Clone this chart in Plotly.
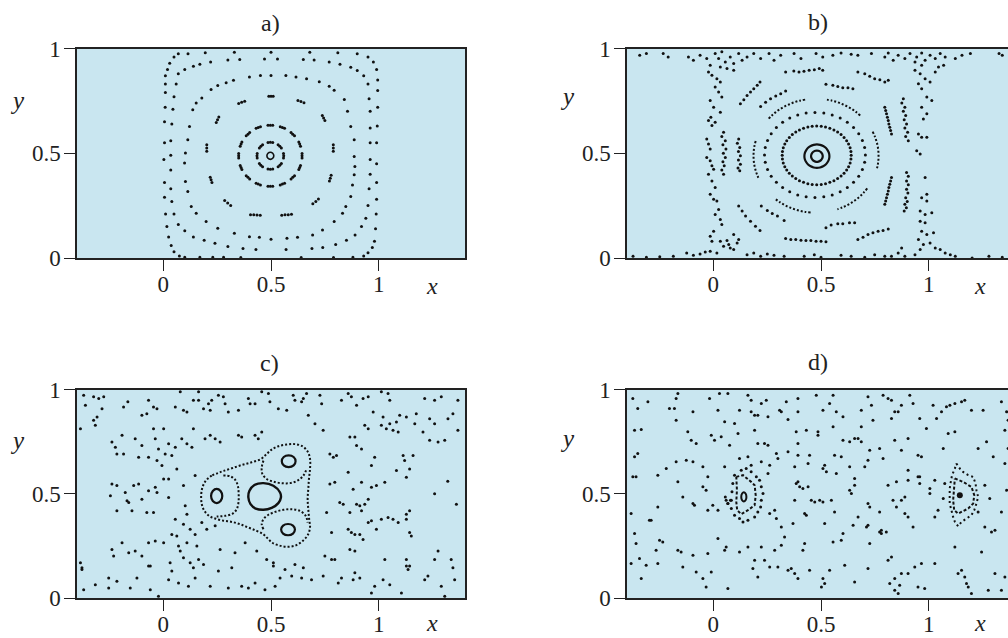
import plotly.graph_objects as go

# ---------------- data ----------------
TICKS = [0, 0.5, 1]
TICK_TEXT = ["0", "0.5", "1"]
PANEL_TITLES = ["a)", "b)", "c)", "d)"]

# ---- panel a ----
A_CENTER = [(0.513,0.488),(0.508,0.500),(0.497,0.505),(0.486,0.500),(0.481,0.488),(0.486,0.476),(0.497,0.471),(0.508,0.476)]
A_RING2 = [(0.559,0.488),(0.558,0.499),(0.558,0.477),(0.541,0.533),(0.548,0.525),(0.533,0.540),
           (0.497,0.552),(0.508,0.551),(0.486,0.551),(0.453,0.533),(0.446,0.525),(0.461,0.540),
           (0.435,0.488),(0.436,0.499),(0.436,0.477),(0.453,0.443),(0.446,0.451),(0.461,0.436),
           (0.497,0.424),(0.508,0.425),(0.486,0.425),(0.541,0.443),(0.548,0.451),(0.533,0.436)]
A_RING3 = [(0.644,0.488),(0.644,0.477),(0.644,0.499),(0.633,0.544),(0.637,0.534),(0.629,0.554),
           (0.601,0.591),(0.609,0.583),(0.593,0.599),(0.553,0.623),(0.563,0.619),(0.543,0.627),
           (0.497,0.634),(0.508,0.634),(0.486,0.634),(0.441,0.623),(0.451,0.627),(0.431,0.619),
           (0.393,0.591),(0.401,0.599),(0.385,0.583),(0.361,0.544),(0.365,0.554),(0.357,0.534),
           (0.350,0.488),(0.350,0.499),(0.350,0.477),(0.361,0.432),(0.357,0.442),(0.365,0.422),
           (0.393,0.385),(0.385,0.393),(0.401,0.377),(0.441,0.353),(0.431,0.357),(0.451,0.349),
           (0.497,0.342),(0.486,0.342),(0.508,0.342),(0.553,0.353),(0.543,0.349),(0.563,0.357),
           (0.601,0.385),(0.593,0.377),(0.609,0.393),(0.633,0.432),(0.629,0.422),(0.637,0.442)]
A_RING4 = [(0.49,0.772),(0.50,0.772),(0.51,0.772),
           (0.35,0.738),(0.364,0.743),(0.378,0.748),
           (0.625,0.752),(0.639,0.747),(0.653,0.741),
           (0.246,0.647),(0.252,0.660),(0.258,0.673),
           (0.738,0.680),(0.744,0.668),(0.750,0.656),
           (0.202,0.51),(0.202,0.525),(0.202,0.54),
           (0.789,0.51),(0.789,0.525),(0.789,0.54),
           (0.218,0.386),(0.222,0.373),(0.226,0.360),
           (0.779,0.395),(0.775,0.381),(0.771,0.367),
           (0.285,0.274),(0.299,0.262),(0.313,0.251),
           (0.694,0.259),(0.708,0.27),(0.72,0.282),
           (0.405,0.206),(0.42,0.206),(0.435,0.205),(0.45,0.204),
           (0.55,0.204),(0.565,0.206),(0.58,0.207),(0.595,0.209)]
A_RING5 = [(0.222,0.804),(0.253,0.823),(0.292,0.836),(0.326,0.848),(0.400,0.864),(0.451,0.871),(0.500,0.871),
           (0.569,0.871),(0.616,0.864),(0.665,0.856),(0.724,0.841),(0.770,0.820),(0.793,0.801),(0.840,0.756),
           (0.855,0.700),(0.870,0.628),(0.886,0.565),(0.886,0.485),(0.889,0.437),(0.886,0.397),(0.878,0.349),
           (0.870,0.293),(0.847,0.246),(0.832,0.214),(0.793,0.174),(0.739,0.134),(0.693,0.110),(0.623,0.099),
           (0.574,0.094),(0.500,0.089),(0.446,0.099),(0.400,0.102),(0.330,0.118),(0.253,0.142),(0.199,0.174),
           (0.153,0.214),(0.130,0.246),(0.114,0.317),(0.103,0.365),(0.099,0.453),(0.103,0.501),(0.114,0.565),
           (0.122,0.628),(0.137,0.708),(0.153,0.740),(0.179,0.764)]
A_RING6 = [(0.07,0.88),(0.10,0.90),(0.14,0.915),(0.17,0.925),(0.22,0.935),(0.30,0.945),(0.355,0.948),(0.47,0.95),
           (0.53,0.95),(0.65,0.948),(0.70,0.945),(0.77,0.935),(0.82,0.925),(0.87,0.91),(0.90,0.895),(0.93,0.87),
           (0.95,0.83),(0.955,0.76),(0.96,0.70),(0.96,0.62),(0.96,0.55),(0.96,0.47),(0.96,0.40),(0.955,0.33),
           (0.95,0.25),(0.94,0.19),(0.92,0.15),(0.89,0.11),(0.85,0.085),(0.80,0.065),(0.74,0.05),(0.69,0.045),
           (0.57,0.04),(0.43,0.04),(0.37,0.045),(0.30,0.055),(0.24,0.07),(0.19,0.085),(0.14,0.10),(0.10,0.13),
           (0.07,0.16),(0.05,0.21),(0.04,0.27),(0.035,0.33),(0.035,0.42),(0.035,0.49),(0.035,0.56),(0.04,0.64),
           (0.045,0.71),(0.05,0.77),(0.06,0.83)]
A_RING7 = [(0.02,0.90),(0.03,0.93),(0.05,0.96),(0.07,0.975),(0.01,0.87),(0.01,0.83),(0.01,0.79),(0.009,0.72),
           (0.006,0.65),(0.006,0.55),(0.003,0.47),(0.006,0.36),(0.006,0.29),(0.011,0.21),(0.017,0.15),(0.025,0.10),
           (0.037,0.06),(0.05,0.03),(0.075,0.01),(0.10,0.003),(0.115,0.975),(0.195,0.98),(0.33,0.982),(0.50,0.982),
           (0.68,0.982),(0.81,0.98),(0.90,0.975),(0.95,0.96),(0.975,0.935),(0.99,0.90),(0.995,0.85),(0.995,0.80),
           (0.995,0.72),(0.993,0.63),(0.99,0.55),(0.99,0.45),(0.99,0.36),(0.99,0.28),(0.988,0.21),(0.985,0.14),
           (0.98,0.08),(0.97,0.05),(0.95,0.025),(0.93,0.01),(0.17,0.003),(0.23,0.003),(0.28,0.003),(0.36,0.002),
           (0.64,0.002),(0.79,0.002),(0.88,0.003)]

# ---- panel b ----
B_CORE_IN = [(0.508,0.486),(0.507,0.493),(0.504,0.4995),(0.500,0.505),(0.4945,0.509),(0.488,0.512),(0.481,0.513),
             (0.474,0.512),(0.4675,0.509),(0.462,0.505),(0.458,0.4995),(0.455,0.493),(0.454,0.486),(0.455,0.479),
             (0.458,0.4725),(0.462,0.467),(0.4675,0.463),(0.474,0.460),(0.481,0.459),(0.488,0.460),(0.4945,0.463),
             (0.500,0.467),(0.504,0.4725),(0.507,0.479)]
B_CORE_OUT = [(0.539,0.486),(0.537,0.5005),(0.531,0.514),(0.522,0.526),(0.510,0.5345),(0.496,0.540),(0.481,0.542),
              (0.466,0.540),(0.452,0.5345),(0.440,0.526),(0.431,0.514),(0.425,0.5005),(0.423,0.486),(0.425,0.4715),
              (0.431,0.458),(0.440,0.446),(0.452,0.4375),(0.466,0.432),(0.481,0.430),(0.496,0.432),(0.510,0.4375),
              (0.522,0.446),(0.531,0.458),(0.537,0.4715)]
B_RING3 = [(0.640,0.490),(0.635,0.526),(0.619,0.560),(0.593,0.589),(0.560,0.611),(0.521,0.625),(0.480,0.630),
           (0.439,0.625),(0.400,0.611),(0.367,0.589),(0.341,0.560),(0.325,0.526),(0.320,0.490),(0.325,0.454),
           (0.341,0.420),(0.367,0.391),(0.400,0.369),(0.439,0.355),(0.480,0.350),(0.521,0.355),(0.560,0.369),
           (0.593,0.391),(0.619,0.420),(0.635,0.454),
           (0.639,0.508),(0.628,0.544),(0.607,0.575),(0.577,0.601),(0.541,0.619),(0.501,0.629),(0.459,0.629),
           (0.419,0.619),(0.383,0.601),(0.353,0.575),(0.332,0.544),(0.321,0.508),(0.321,0.472),(0.332,0.436),
           (0.353,0.405),(0.383,0.379),(0.419,0.361),(0.459,0.351),(0.501,0.351),(0.541,0.361),(0.577,0.379),
           (0.607,0.405),(0.628,0.436),(0.639,0.472)]
B_RING4 = [(0.706,0.492),(0.7025,0.527),(0.692,0.561),(0.675,0.5935),(0.651,0.6225),(0.622,0.6475),(0.589,0.668),
           (0.552,0.683),(0.513,0.692),(0.472,0.695),(0.431,0.692),(0.392,0.683),(0.355,0.668),(0.322,0.6475),
           (0.293,0.6225),(0.269,0.5935),(0.252,0.561),(0.2415,0.527),(0.238,0.492),(0.2415,0.457),(0.252,0.423),
           (0.269,0.3905),(0.293,0.3615),(0.322,0.3365),(0.355,0.316),(0.392,0.301),(0.431,0.292),(0.472,0.289),
           (0.513,0.292),(0.552,0.301),(0.589,0.316),(0.622,0.3365),(0.651,0.3615),(0.675,0.3905),(0.692,0.423),
           (0.7025,0.457)]
B_ARC_TL = [(0.4265,0.756),(0.402,0.751),(0.378,0.744),(0.354,0.734),(0.332,0.7236),(0.3105,0.711),(0.2905,0.6964),(0.272,0.680),(0.255,0.663)]
B_ARC_TR = [(0.682,0.680),(0.6635,0.6964),(0.6435,0.711),(0.622,0.7236),(0.5997,0.734),(0.576,0.744),(0.552,0.751),(0.5275,0.756)]
B_ARC_R = [(0.7397,0.603),(0.7496,0.581),(0.757,0.5584),(0.7627,0.5353),(0.766,0.5117),(0.767,0.488),(0.766,0.4643),(0.7627,0.4407),(0.757,0.4176)]
B_ARC_BR = [(0.7145,0.332),(0.699,0.3131),(0.682,0.2957),(0.6635,0.2796),(0.6435,0.2652),(0.622,0.2524),(0.5997,0.2416),(0.576,0.2323)]
B_ARC_BL = [(0.4518,0.2171),(0.4265,0.2201),(0.402,0.2252),(0.378,0.2323),(0.354,0.2416),(0.332,0.2524),(0.3105,0.2652),(0.2905,0.2796)]
B_ARC_L = [(0.197,0.5584),(0.1913,0.5353),(0.188,0.5117),(0.187,0.488),(0.188,0.4643),(0.1913,0.4407),(0.197,0.4176),(0.2044,0.395),(0.2143,0.373)]
B_CHAIN = [(0.336,0.888),(0.374,0.893),(0.398,0.888),(0.421,0.891),(0.445,0.896),(0.469,0.899),(0.492,0.904),(0.508,0.896),
           (0.523,0.829),(0.555,0.824),(0.578,0.819),(0.601,0.813),(0.625,0.813),(0.648,0.808),
           (0.671,0.888),(0.703,0.88),(0.726,0.867),(0.749,0.856),(0.773,0.851),(0.796,0.84),(0.812,0.848),
           (0.126,0.736),(0.142,0.755),(0.157,0.776),(0.173,0.792),(0.188,0.808),(0.204,0.824),(0.217,0.84),
           (0.22,0.723),(0.243,0.744),(0.266,0.76),(0.29,0.773),(0.313,0.784),(0.336,0.797),
           (0.048,0.6),(0.056,0.56),(0.059,0.52),(0.056,0.48),(0.051,0.44),(0.048,0.4),
           (0.04,0.58),(0.045,0.54),(0.047,0.5),(0.045,0.46),(0.04,0.42),
           (0.118,0.568),(0.123,0.528),(0.126,0.488),(0.126,0.448),(0.123,0.416),
           (0.112,0.548),(0.117,0.508),(0.117,0.468),(0.115,0.43),
           (0.796,0.72),(0.804,0.688),(0.812,0.656),(0.819,0.624),(0.827,0.592),
           (0.8,0.704),(0.808,0.672),(0.815,0.64),(0.823,0.608),
           (0.882,0.76),(0.889,0.72),(0.893,0.68),(0.897,0.64),(0.902,0.6),(0.905,0.56),
           (0.875,0.74),(0.882,0.70),(0.886,0.66),(0.889,0.62),(0.893,0.58),
           (0.827,0.384),(0.819,0.352),(0.812,0.32),(0.804,0.288),(0.796,0.256),
           (0.823,0.368),(0.815,0.336),(0.808,0.304),(0.8,0.272),
           (0.897,0.408),(0.897,0.368),(0.897,0.328),(0.893,0.288),(0.889,0.256),(0.886,0.224),
           (0.905,0.39),(0.905,0.35),(0.903,0.31),(0.9,0.27),(0.896,0.24),
           (0.118,0.248),(0.134,0.224),(0.15,0.2),(0.173,0.176),(0.196,0.152),(0.217,0.131),
           (0.223,0.248),(0.251,0.227),(0.274,0.213),(0.298,0.2),(0.329,0.179),
           (0.523,0.144),(0.547,0.157),(0.578,0.163),(0.601,0.163),(0.632,0.168),(0.656,0.168),
           (0.671,0.088),(0.695,0.099),(0.718,0.112),(0.741,0.12),(0.765,0.128),(0.788,0.131),(0.812,0.139),
           (0.336,0.093),(0.36,0.088),(0.383,0.088),(0.407,0.085),(0.43,0.083),(0.453,0.083),(0.477,0.08),(0.5,0.08),(0.523,0.077)]
B_CHAOS = [(-0.022,0.888),(-0.006,0.872),(0.017,0.856),(0.033,0.84),(0.009,0.816),(0.025,0.792),(0.04,0.768),(-0.014,0.752),
           (0.002,0.72),(0.033,0.696),(-0.011,0.672),(-0.022,0.656),(0.009,0.648),(-0.006,0.632),(-0.03,0.568),(-0.022,0.544),
           (-0.014,0.52),(-0.03,0.48),(-0.014,0.464),(-0.006,0.44),(0.002,0.424),(-0.022,0.4),(-0.006,0.368),(0.009,0.336),
           (-0.014,0.304),(0.002,0.28),(0.017,0.272),(0.025,0.232),(0.009,0.208),(0.033,0.184),(0.04,0.16),(0.002,0.128),
           (-0.014,0.104),(-0.006,0.08),(0.033,0.08),(0.048,0.056),(0.079,0.048),(0.095,0.04),(-0.014,0.032),(0.017,0.024),
           (0.064,0.083),(0.111,0.072),(0.118,0.088),(0.095,0.112),(0.072,0.064),
           (-0.115,0.96),(-0.092,0.944),(-0.061,0.968),(-0.03,0.952),(0.009,0.976),(0.025,0.952),(0.04,0.984),(0.056,0.936),
           (0.079,0.96),(0.095,0.928),(0.118,0.976),(0.134,0.944),(0.157,0.96),(0.033,0.912),(0.064,0.904),(0.095,0.896),
           (-0.014,0.92),(0.188,0.976),(0.22,0.952),(0.259,0.976),(0.282,0.944),(0.313,0.968),
           (-0.341,0.968),(-0.31,0.976),(-0.232,0.976),(-0.209,0.96),(0.375,0.976),(0.407,0.952),(0.477,0.976),(0.508,0.96),
           (0.555,0.968),(0.593,0.979),(0.64,0.973),(0.671,0.968),(0.734,0.976),(0.796,0.96),(0.812,0.979),(0.835,0.944),
           (0.858,0.968),(0.889,0.952),(0.913,0.976),(0.944,0.96),(0.967,0.979),(0.983,0.944),(1.006,0.968),(1.03,0.952),
           (1.053,0.976),(1.076,0.96),(1.123,0.952),(1.154,0.968),(1.193,0.976),(1.326,0.976),(1.341,0.968),
           (0.936,0.896),(0.96,0.88),(0.983,0.856),(1.006,0.84),(0.952,0.832),(0.967,0.808),(0.991,0.768),(1.014,0.752),
           (0.967,0.72),(0.991,0.688),(0.975,0.664),(0.952,0.592),(0.967,0.576),(0.991,0.576),(0.944,0.512),(0.96,0.496),
           (0.983,0.384),(0.991,0.304),(0.967,0.288),(0.991,0.272),(0.96,0.224),(0.983,0.208),(1.014,0.216),(0.96,0.176),
           (0.983,0.168),(0.967,0.128),(0.991,0.112),(1.022,0.12),(0.952,0.088),(0.975,0.064),(1.006,0.072),(1.03,0.048),
           (1.053,0.04),(1.076,0.024),(1.1,0.016),(0.874,0.048),(0.858,0.024),(0.889,0.008),(0.827,0.008),(0.96,0.04),
           (0.936,0.016),(1.045,0.912),(1.069,0.92),(1.03,0.888),(0.936,0.936),(0.967,0.92),
           (-0.372,0.008),(-0.31,0.003),(-0.248,0.006),(-0.185,0.008),(-0.123,0.024),(-0.092,0.013),(-0.061,0.019),
           (-0.037,0.029),(0.157,0.016),(0.188,0.024),(0.22,0.008),(0.251,0.019),(0.282,0.013),(0.329,0.008),(0.422,0.008),
           (0.469,0.016),(0.5,0.003),(0.593,0.013),(0.64,0.008),(0.703,0.003),(0.749,0.016),(0.796,0.008),(1.123,0.008),
           (1.201,0.0),(1.279,0.008),(1.341,0.003)]

# ---- panel c ----
C_CORE = [(0.465,0.551),(0.511,0.538),(0.542,0.506),(0.546,0.482),(0.534,0.455),(0.503,0.432),(0.465,0.423),
          (0.429,0.429),(0.405,0.450),(0.395,0.482),(0.400,0.514),(0.423,0.542)]
C_ISL_TOP = [(0.614,0.656),(0.605,0.676),(0.582,0.684),(0.559,0.676),(0.55,0.656),(0.559,0.636),(0.582,0.628),(0.605,0.636)]
C_ISL_LEFT = [(0.274,0.489),(0.266,0.513),(0.248,0.523),(0.230,0.513),(0.222,0.489),(0.230,0.465),(0.248,0.455),(0.266,0.465)]
C_ISL_BOT = [(0.611,0.328),(0.602,0.347),(0.579,0.355),(0.556,0.347),(0.547,0.328),(0.556,0.309),(0.579,0.301),(0.602,0.309)]
C_SEP_OUTER = [(0.256,0.600),(0.225,0.587),(0.198,0.563),(0.182,0.531),(0.176,0.490),(0.179,0.450),(0.191,0.418),
               (0.213,0.394),(0.241,0.381),(0.279,0.371),(0.318,0.365),(0.356,0.354),(0.395,0.338),(0.434,0.322),
               (0.465,0.305),(0.485,0.285),(0.506,0.265),(0.537,0.252),(0.577,0.246),(0.614,0.252),(0.645,0.272),
               (0.670,0.301),(0.681,0.338),(0.677,0.378),(0.673,0.426),(0.670,0.474),(0.673,0.523),(0.676,0.571),
               (0.681,0.619),(0.681,0.667),(0.670,0.703),(0.645,0.728),(0.611,0.738),(0.573,0.736),(0.534,0.728),
               (0.503,0.712),(0.480,0.691),(0.454,0.667),(0.410,0.651),(0.364,0.638),(0.318,0.622),(0.279,0.609)]
C_SEP_LEFT = [(0.279,0.587),(0.310,0.584),(0.333,0.568),(0.346,0.539),(0.350,0.498),(0.349,0.458),(0.341,0.426),(0.321,0.404),(0.287,0.394),(0.248,0.391)]
C_SEP_TOP = [(0.465,0.659),(0.457,0.627),(0.460,0.595),(0.480,0.571),(0.511,0.558),(0.549,0.551),(0.588,0.551),(0.623,0.563),(0.650,0.587),(0.665,0.619)]
C_SEP_BOT = [(0.465,0.330),(0.457,0.354),(0.465,0.378),(0.485,0.397),(0.519,0.413),(0.557,0.423),(0.596,0.426),(0.634,0.418),(0.661,0.394),(0.670,0.362)]
C_CHAOS = [(-0.369,0.973),(-0.323,0.965),(-0.299,0.957),(-0.276,0.965),(-0.361,0.924),(-0.284,0.908),(-0.307,0.868),(-0.323,0.852),
           (-0.184,0.916),(-0.164,0.941),(-0.099,0.876),(-0.076,0.884),(-0.068,0.949),(-0.045,0.916),(-0.029,0.908),(0.056,0.916),
           (0.079,0.989),(0.094,0.9),(0.11,0.892),(0.14,0.949),(0.164,0.949),(0.164,0.989),(0.187,0.908),(0.21,0.932),(0.218,0.9),
           (0.225,0.949),(0.256,0.973),(0.279,0.965),(0.287,0.932),(0.302,0.892),(0.349,0.9),(0.395,0.957),(0.403,0.932),
           (0.426,0.932),(0.457,0.989),(0.488,0.981),(0.495,0.941),(0.534,0.908),(0.573,0.9),(0.603,0.973),(0.611,0.949),
           (0.65,0.957),(0.642,0.941),(0.665,0.981),(0.673,0.876),(0.727,0.973),(0.735,0.932),(0.827,0.949),(0.858,0.981),
           (0.873,0.965),(0.897,0.924),(0.927,0.957),(0.951,0.965),(0.974,0.892),(1.012,0.989),(1.02,0.868),(1.043,0.981),
           (1.051,0.949),(1.097,0.876),(1.128,0.868),(1.174,0.884),(1.213,0.957),(1.236,0.86),(1.259,0.949),(1.29,0.965),
           (1.321,0.86),(1.344,0.884),(1.367,0.949),
           (-0.384,0.812),(-0.315,0.828),(-0.238,0.748),(-0.222,0.723),(-0.215,0.691),(-0.191,0.78),(-0.184,0.691),(-0.13,0.764),
           (-0.114,0.675),(-0.099,0.732),(-0.068,0.675),(-0.045,0.812),(-0.037,0.764),(-0.022,0.715),(-0.029,0.659),(-0.006,0.635),
           (0.002,0.812),(0.009,0.691),(0.025,0.74),(0.04,0.683),(0.056,0.723),(0.086,0.764),(0.11,0.74),(0.133,0.723),(0.14,0.812),
           (0.194,0.764),(0.218,0.78),(0.241,0.764),(0.264,0.748),(0.349,0.78),(0.364,0.772),(0.426,0.78),(0.441,0.764),(0.457,0.796),
           (0.704,0.836),(0.742,0.804),(0.773,0.691),(0.789,0.675),(0.804,0.683),(0.866,0.772),(0.889,0.772),(0.897,0.732),
           (0.92,0.715),(0.935,0.828),(0.951,0.812),(0.966,0.635),(0.981,0.675),(1.012,0.828),(1.035,0.812),(1.051,0.836),
           (1.066,0.804),(1.082,0.844),(1.09,0.796),(1.113,0.683),(1.12,0.659),(1.159,0.683),(1.167,0.836),(1.205,0.796),
           (1.236,0.756),(1.259,0.836),(1.275,0.748),(1.306,0.756),(1.367,0.804),
           (-0.238,0.547),(-0.215,0.539),(-0.215,0.418),(-0.245,0.49),(-0.176,0.506),(-0.168,0.466),(-0.16,0.458),(-0.137,0.539),
           (-0.114,0.547),(-0.145,0.418),(-0.099,0.474),(-0.068,0.514),(-0.076,0.41),(-0.037,0.531),(-0.029,0.506),(-0.045,0.41),
           (0.002,0.571),(0.025,0.571),(0.063,0.619),(0.094,0.539),(0.102,0.442),(0.11,0.402),(0.025,0.482),(0.056,0.378),(0.148,0.587),
           (0.773,0.547),(0.796,0.555),(0.819,0.458),(0.835,0.45),(0.858,0.603),(0.866,0.41),(0.881,0.522),(0.897,0.45),(0.912,0.442),
           (0.92,0.418),(0.92,0.555),(0.935,0.45),(0.951,0.474),(0.966,0.531),(0.989,0.539),(1.028,0.555),(1.082,0.611),(1.128,0.579),
           (1.143,0.619),(1.143,0.418),(1.128,0.402),(0.758,0.41),(1.259,0.5),(1.32,0.56),(1.36,0.45),
           (-0.384,0.169),(-0.377,0.145),(-0.238,0.233),(-0.23,0.201),(-0.191,0.265),(-0.16,0.217),(-0.13,0.225),(-0.099,0.201),
           (-0.068,0.265),(-0.06,0.153),(-0.037,0.273),(0.002,0.265),(0.032,0.169),(0.04,0.305),(0.063,0.297),(0.071,0.249),
           (0.079,0.225),(0.094,0.354),(0.11,0.265),(0.125,0.33),(0.148,0.305),(0.156,0.249),(0.179,0.362),(0.094,0.193),
           (0.125,0.169),(0.164,0.185),(0.202,0.33),(0.241,0.346),(0.264,0.233),(0.333,0.217),(0.38,0.265),(0.434,0.225),
           (0.48,0.185),(0.511,0.169),
           (0.75,0.201),(0.781,0.185),(0.796,0.185),(0.781,0.314),(0.858,0.33),(0.873,0.314),(0.889,0.305),(0.912,0.305),
           (0.927,0.281),(0.951,0.362),(0.966,0.37),(0.989,0.33),(1.012,0.378),(1.043,0.386),(1.066,0.378),(1.09,0.362),
           (1.128,0.378),(1.143,0.314),(1.151,0.297),(0.866,0.233),(0.889,0.225),(1.028,0.185),(1.128,0.185),(1.259,0.185),
           (1.275,0.225),(1.336,0.185),(1.143,0.153),
           (-0.377,0.137),(-0.369,0.04),(-0.315,0.064),(-0.253,0.096),(-0.253,0.048),(-0.215,0.08),(-0.153,0.048),(-0.122,0.096),
           (-0.068,0.153),(-0.06,0.04),(-0.022,0.008),(0.025,0.088),(0.04,0.129),(0.071,0.072),(0.117,0.056),(0.14,0.145),
           (0.148,0.096),(0.187,0.161),(0.218,0.056),(0.256,0.129),(0.302,0.048),(0.318,0.145),(0.364,0.056),(0.395,0.048),
           (0.426,0.072),(0.472,0.04),(0.511,0.153),(0.519,0.056),(0.542,0.096),(0.565,0.137),(0.596,0.105),(0.611,0.161),
           (0.642,0.096),(0.65,0.145),(0.688,0.088),(0.742,0.105),(0.812,0.072),(0.827,0.096),(0.881,0.088),(0.889,0.121),
           (0.912,0.096),(0.966,0.024),(0.981,0.056),(1.02,0.088),(1.051,0.064),(1.105,0.024),(1.128,0.153),(1.136,0.137),
           (1.213,0.088),(1.228,0.105),(1.29,0.056),(1.344,0.145),(1.352,0.088),(1.306,0.008)]

# ---- panel d ----
D_ISL1_HEX = [(0.107,0.581),(0.138,0.589),(0.176,0.557),(0.192,0.541),(0.197,0.493),(0.192,0.445),(0.161,0.421),
              (0.130,0.402),(0.111,0.421),(0.107,0.461),(0.110,0.517)]
D_ISL1_CORE = [(0.154,0.485),(0.150,0.501),(0.142,0.507),(0.134,0.501),(0.130,0.485),(0.134,0.469),(0.142,0.463),(0.150,0.469)]
D_ISL1_HALO = [(0.13,0.613),(0.153,0.621),(0.176,0.605),(0.2,0.581),(0.215,0.565),(0.223,0.533),(0.231,0.501),(0.223,0.469),
               (0.22,0.437),(0.207,0.413),(0.192,0.389),(0.161,0.373),(0.138,0.365),(0.122,0.381),(0.099,0.397),(0.084,0.429),
               (0.08,0.469),(0.087,0.509),(0.091,0.549),(0.099,0.589),(0.06,0.469),(0.068,0.453),(0.056,0.485)]
D_ISL2_HEX = [(1.121,0.573),(1.159,0.557),(1.198,0.533),(1.211,0.493),(1.206,0.453),(1.183,0.429),(1.136,0.405),
              (1.118,0.421),(1.113,0.469),(1.118,0.533)]
D_ISL2_OUTER = [(1.128,0.645),(1.144,0.621),(1.159,0.605),(1.183,0.589),(1.206,0.581),(1.217,0.549),(1.221,0.517),
                (1.229,0.485),(1.221,0.453),(1.211,0.421),(1.198,0.397),(1.175,0.381),(1.152,0.365),(1.136,0.344),
                (1.121,0.365),(1.113,0.389),(1.105,0.421),(1.097,0.453),(1.097,0.485),(1.097,0.525),(1.102,0.557),
                (1.108,0.589),(1.121,0.621)]
D_ISL2_CORE = [(1.144,0.493)]
D_CHAOS = [(-0.373,0.957),(-0.35,0.909),(-0.303,0.941),(-0.334,0.808),(-0.365,0.805),(-0.203,0.909),(-0.18,0.909),(-0.172,0.957),
           (-0.164,0.981),(-0.172,0.853),(-0.094,0.893),(-0.017,0.957),(0.022,0.901),(0.029,0.981),(0.053,0.845),(0.068,0.981),
           (0.099,0.837),(0.122,0.901),(0.161,0.973),(0.176,0.949),(0.176,0.893),(0.192,0.877),(0.207,0.877),(0.223,0.933),
           (0.246,0.949),(0.254,0.869),(0.308,0.901),(0.316,0.893),(0.339,0.941),(0.347,0.856),(0.393,0.957),(0.393,0.893),
           (0.432,0.805),(0.478,0.973),(0.509,0.901),(0.54,0.933),(0.556,0.973),(0.571,0.893),(0.602,0.869),(0.687,0.901),
           (0.718,0.965),(0.734,0.925),(0.741,0.853),(0.788,0.973),(0.811,0.957),(0.827,0.949),(0.842,0.893),(0.858,0.893),
           (0.873,0.925),(0.912,0.973),(0.927,0.933),(0.958,0.861),(0.989,0.813),(1.02,0.925),(1.036,0.861),(1.059,0.893),
           (1.082,0.917),(1.098,0.925),(1.121,0.933),(1.152,0.941),(1.167,0.949),(1.198,0.901),(1.252,0.901),(1.337,0.941),
           (1.361,0.893),(1.368,0.853),(1.353,0.805),(0.687,0.821),(0.827,0.861),
           (-0.118,0.797),(-0.102,0.757),(-0.079,0.741),(-0.009,0.781),(0.006,0.757),(0.037,0.773),(0.076,0.733),(0.115,0.789),
           (0.192,0.805),(0.207,0.741),(0.238,0.741),(0.254,0.733),(0.293,0.693),(0.3,0.669),(0.347,0.701),(0.393,0.741),
           (0.393,0.685),(0.385,0.797),(0.486,0.797),(0.486,0.781),(0.556,0.821),(0.563,0.685),(0.594,0.677),(0.602,0.757),
           (0.633,0.749),(0.656,0.765),(0.672,0.765),(0.687,0.749),(0.726,0.709),(0.718,0.661),(0.703,0.629),(0.772,0.717),
           (0.788,0.669),(0.842,0.757),(0.873,0.709),(0.904,0.765),(0.95,0.685),(0.966,0.677),(1.067,0.717),(1.09,0.789),
           (1.121,0.797),(1.229,0.717),(1.268,0.749),(1.299,0.677),(1.353,0.645),(1.368,0.717),(-0.35,0.693),(-0.365,0.677),
           (-0.358,0.581),(-0.257,0.589),(-0.218,0.621),(-0.172,0.653),(-0.125,0.661),(-0.094,0.653),(-0.048,0.629),(-0.025,0.581),
           (0.053,0.629),(0.122,0.669),(0.161,0.677),(0.176,0.637),(0.223,0.653),(0.262,0.637),(0.254,0.597),(0.378,0.629),
           (0.393,0.557),(0.44,0.645),(0.447,0.685),(0.509,0.621),(0.517,0.637),(0.525,0.605),(0.571,0.597),(0.633,0.629),
           (0.656,0.573),(0.904,0.613),(0.904,0.565),(0.95,0.581),(0.958,0.549),(1.028,0.565),(0.811,0.541),(0.85,0.557),(0.889,0.485),
           (-0.381,0.405),(-0.373,0.581),(-0.288,0.373),(-0.257,0.437),(-0.164,0.557),(-0.141,0.485),(-0.094,0.453),(-0.087,0.445),
           (-0.048,0.533),(-0.033,0.517),(-0.025,0.421),(-0.002,0.445),(0.022,0.421),(0.068,0.453),(0.084,0.469),(0.262,0.405),
           (0.285,0.421),(0.293,0.381),(0.316,0.341),(0.37,0.357),(0.378,0.469),(0.385,0.549),(0.401,0.533),(0.416,0.525),
           (0.44,0.533),(0.424,0.405),(0.432,0.397),(0.455,0.469),(0.471,0.461),(0.494,0.469),(0.509,0.461),(0.517,0.357),
           (0.548,0.469),(0.563,0.413),(0.633,0.517),(0.641,0.501),(0.656,0.541),(0.718,0.453),(0.726,0.437),(0.672,0.389),
           (0.649,0.349),(0.711,0.341),(0.772,0.413),(0.78,0.325),(0.803,0.317),(0.834,0.469),(0.85,0.437),(0.873,0.469),
           (0.889,0.405),(0.904,0.389),(0.927,0.341),(0.958,0.581),(1.005,0.525),(1.005,0.501),(1.028,0.389),(1.043,0.421),
           (1.067,0.477),(1.074,0.549),(1.26,0.541),(1.283,0.477),(1.361,0.517),(1.337,0.413),(1.307,0.325),(1.26,0.341),(1.229,0.413),
           (-0.381,0.165),(-0.365,0.309),(-0.358,0.261),(-0.342,0.189),(-0.334,0.093),(-0.311,0.157),(-0.296,0.373),(-0.265,0.229),
           (-0.257,0.165),(-0.249,0.277),(-0.234,0.269),(-0.164,0.229),(-0.149,0.221),(-0.141,0.149),(-0.094,0.205),(-0.079,0.125),
           (-0.048,0.093),(-0.033,0.053),(-0.025,0.213),(-0.009,0.125),(0.022,0.285),(0.053,0.229),(0.06,0.245),(0.068,0.045),
           (0.122,0.221),(0.161,0.245),(0.184,0.141),(0.192,0.181),(0.207,0.101),(0.223,0.245),(0.238,0.181),(0.262,0.149),
           (0.285,0.229),(0.3,0.149),(0.316,0.253),(0.331,0.293),(0.347,0.133),(0.362,0.141),(0.378,0.117),(0.393,0.093),
           (0.416,0.229),(0.424,0.261),(0.447,0.133),(0.502,0.053),(0.509,0.093),(0.517,0.069),(0.54,0.133),(0.556,0.269),
           (0.594,0.277),(0.602,0.309),(0.61,0.157),(0.656,0.077),(0.718,0.141),(0.726,0.261),(0.718,0.349),(0.772,0.317),
           (0.78,0.309),(0.811,0.181),(0.827,0.197),(0.819,0.069),(0.842,0.037),(0.858,0.021),(0.842,0.093),(0.865,0.061),
           (0.873,0.117),(0.904,0.117),(0.935,0.149),(0.966,0.165),(0.95,0.053),(0.981,0.045),(1.028,0.165),(1.121,0.245),
           (1.136,0.117),(1.152,0.133),(1.167,0.101),(1.175,0.069),(1.183,0.053),(1.198,0.021),(1.245,0.221),(1.291,0.317),
           (1.307,0.117),(1.353,0.101),(1.276,0.037),(1.337,0.037)]

# ---------------- figure ----------------
W, H = 1008, 638
BG = "#c9e6f0"
INK = "#111111"
AX = "#222222"
FONT = "Liberation Serif"

fig = go.Figure()


def split(pts, close=False):
    xs = [p[0] for p in pts]
    ys = [p[1] for p in pts]
    if close:
        xs.append(xs[0]); ys.append(ys[0])
    return xs, ys


def dots(pts, ax, size=3.0):
    xs, ys = split(pts)
    fig.add_trace(go.Scatter(x=xs, y=ys, mode="markers", xaxis="x" + ax, yaxis="y" + ax,
                             marker=dict(size=size, color=INK), hoverinfo="skip", showlegend=False))


def curve(pts, ax, width=2.0, dash="solid", close=False, smooth=True):
    xs, ys = split(pts, close)
    fig.add_trace(go.Scatter(x=xs, y=ys, mode="lines", xaxis="x" + ax, yaxis="y" + ax,
                             line=dict(color=INK, width=width, dash=dash,
                                       shape="spline" if smooth else "linear", smoothing=1.0),
                             hoverinfo="skip", showlegend=False))


# panel a  (axis suffix "")
curve(A_CENTER, "", width=1.6, close=True)
for ring in (A_RING2, A_RING3, A_RING4, A_RING5, A_RING6, A_RING7):
    dots(ring, "")

# panel b  (axis suffix "2")
curve(B_CORE_IN, "2", width=2.2, close=True)
curve(B_CORE_OUT, "2", width=2.2, close=True)
dots(B_RING3, "2")
dots(B_RING4, "2")
for arc in (B_ARC_TL, B_ARC_TR, B_ARC_R, B_ARC_BR, B_ARC_BL, B_ARC_L):
    curve(arc, "2", width=2.0, dash="2px,2px")
dots(B_CHAIN, "2")
dots(B_CHAOS, "2")

# panel c  (axis suffix "3")
curve(C_CORE, "3", width=2.4, close=True)
for isl in (C_ISL_TOP, C_ISL_LEFT, C_ISL_BOT):
    curve(isl, "3", width=2.2, close=True)
curve(C_SEP_OUTER, "3", width=2.0, dash="2px,2px", close=True)
for sep in (C_SEP_LEFT, C_SEP_TOP, C_SEP_BOT):
    curve(sep, "3", width=2.0, dash="2px,2px")
dots(C_CHAOS, "3")

# panel d  (axis suffix "4")
curve(D_ISL1_HEX, "4", width=2.0, dash="3px,2px", close=True, smooth=False)
curve(D_ISL1_CORE, "4", width=2.0, close=True)
dots(D_ISL1_HALO, "4")
curve(D_ISL2_HEX, "4", width=2.0, dash="3px,2px", close=True, smooth=False)
curve(D_ISL2_OUTER, "4", width=2.0, dash="2px,3px", close=True, smooth=False)
dots(D_ISL2_CORE, "4", size=6)
dots(D_CHAOS, "4")

# axes geometry (pixel layout of the reference)
LEFT_A, RIGHT_A = 77 / W, 465 / W
LEFT_B = 627 / W
UNIT = (465 - 77) / 1.8
B_MAX = -0.4 + (W - 627) / UNIT
TOP_ROW = [1 - 258 / H, 1 - 48.5 / H]
BOT_ROW = [1 - 598 / H, 1 - 389.5 / H]

tickfont = dict(family=FONT, size=23, color=AX)


def xax(domain, rng, anchor):
    return dict(domain=domain, range=rng, anchor=anchor, showgrid=False, zeroline=False,
                showline=True, linecolor=AX, linewidth=1.5, mirror=True, automargin=False,
                ticks="outside", ticklen=11, tickwidth=1.4, tickcolor=AX, ticklabelstandoff=-6,
                tickvals=TICKS, ticktext=TICK_TEXT, tickfont=tickfont, fixedrange=True)


def yax(domain, anchor, mirror):
    return dict(domain=domain, range=[0, 1], anchor=anchor, showgrid=False, zeroline=False,
                showline=True, linecolor=AX, linewidth=1.5, mirror=mirror, automargin=False,
                ticks="outside", ticklen=11, tickwidth=1.4, tickcolor=AX, ticklabelstandoff=-1,
                tickvals=TICKS, ticktext=TICK_TEXT, tickfont=tickfont, fixedrange=True)


fig.update_layout(
    width=W, height=H, margin=dict(l=0, r=0, t=0, b=0, pad=0, autoexpand=False),
    paper_bgcolor="white", plot_bgcolor=BG, showlegend=False,
    xaxis=xax([LEFT_A, RIGHT_A], [-0.4, 1.4], "y"),
    yaxis=yax(TOP_ROW, "x", True),
    xaxis2=xax([LEFT_B, 1.0], [-0.4, B_MAX], "y2"),
    yaxis2=yax(TOP_ROW, "x2", False),
    xaxis3=xax([LEFT_A, RIGHT_A], [-0.4, 1.4], "y3"),
    yaxis3=yax(BOT_ROW, "x3", True),
    xaxis4=xax([LEFT_B, 1.0], [-0.4, B_MAX], "y4"),
    yaxis4=yax(BOT_ROW, "x4", False),
)

# panel titles and axis letters (pixel centres in the reference)
title_pos = [(270, 23), (818, 22), (269, 363), (818, 362)]
ylab_pos = [(17, 100), (567, 97), (17, 440), (567, 438)]
xlab_pos = [(432, 286), (980, 286), (432, 623), (980, 623)]
for t, (tx, ty), (yx, yy), (xx, xy) in zip(PANEL_TITLES, title_pos, ylab_pos, xlab_pos):
    for text, (px, py), size in ((t, (tx, ty), 24), ("<i>y</i>", (yx, yy), 25), ("<i>x</i>", (xx, xy), 24)):
        fig.add_annotation(text=text, x=px / W, y=1 - py / H, xref="paper", yref="paper",
                           xanchor="center", yanchor="middle", showarrow=False,
                           font=dict(family=FONT, size=size, color=AX))

fig.write_html("out.html", config={"displayModeBar": False},
               post_script="document.body.style.margin='0';document.body.style.overflow='hidden';")
